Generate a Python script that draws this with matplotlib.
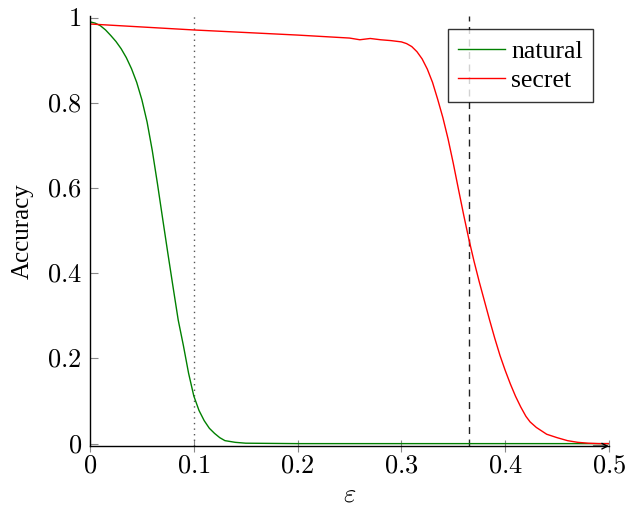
import matplotlib
matplotlib.use("Agg")
import matplotlib.pyplot as plt
from matplotlib.ticker import FuncFormatter

plt.rcParams['font.family'] = 'serif'
plt.rcParams['font.serif'] = ['Liberation Serif', 'Times New Roman', 'DejaVu Serif']
plt.rcParams['mathtext.fontset'] = 'cm'

# natural accuracy vs epsilon
nat_eps = [0, 0.005, 0.01, 0.015, 0.02, 0.025, 0.03, 0.035, 0.04, 0.045, 0.05,
           0.055, 0.06, 0.065, 0.07, 0.075, 0.08, 0.085, 0.09, 0.095, 0.10,
           0.105, 0.11, 0.115, 0.12, 0.125, 0.13, 0.14, 0.15, 0.2, 0.3, 0.4, 0.5]
nat_acc = [0.99, 0.987, 0.981, 0.971, 0.958, 0.944, 0.927, 0.906, 0.88, 0.848, 0.807,
           0.755, 0.688, 0.61, 0.528, 0.447, 0.368, 0.29, 0.23, 0.165, 0.112,
           0.078, 0.054, 0.036, 0.024, 0.014, 0.007, 0.003, 0.001, 0.0, 0.0, 0.0, 0.0]

# secret accuracy vs epsilon
sec_eps = [0, 0.05, 0.1, 0.15, 0.2, 0.25, 0.26, 0.27, 0.28, 0.29, 0.3, 0.305,
           0.31, 0.315, 0.32, 0.325, 0.33, 0.335, 0.34, 0.345, 0.35, 0.355,
           0.36, 0.365, 0.37, 0.375, 0.38, 0.385, 0.39, 0.395, 0.4, 0.405,
           0.41, 0.415, 0.42, 0.424, 0.43, 0.44, 0.45, 0.46, 0.47, 0.48, 0.49, 0.5]
sec_acc = [0.985, 0.978, 0.971, 0.965, 0.959, 0.952, 0.948, 0.951, 0.948, 0.946, 0.943, 0.939,
           0.932, 0.92, 0.903, 0.879, 0.848, 0.808, 0.765, 0.715, 0.658, 0.597,
           0.537, 0.480, 0.428, 0.38, 0.335, 0.29, 0.247, 0.207, 0.172, 0.14,
           0.111, 0.086, 0.064, 0.051, 0.038, 0.022, 0.014, 0.007, 0.003, 0.001, 0.0, 0.0]

x_ticks = [0, 0.1, 0.2, 0.3, 0.4, 0.5]
y_ticks = [0, 0.2, 0.4, 0.6, 0.8, 1]
eps_train = 0.1
eps_half = 0.365

fig = plt.figure(figsize=(6.36, 5.08), dpi=100)
ax = fig.add_axes([0.1415, 0.1217, 0.816, 0.847])

ax.axvline(eps_train, color='#555555', lw=1.0, ls=(0, (1, 3)))
ax.axvline(eps_half, color='#222222', lw=1.0, ls=(0, (5, 4)))
ax.plot(nat_eps, nat_acc, color=(0, 0.5, 0), lw=1.0, label='natural')
ax.plot(sec_eps, sec_acc, color='red', lw=1.0, label='secret')

ax.set_xlim(0, 0.5)
ax.set_ylim(-0.006, 1.004)
ax.spines['top'].set_visible(False)
ax.spines['right'].set_visible(False)
ax.spines['left'].set_linewidth(1.0)
ax.spines['bottom'].set_linewidth(1.0)
ax.annotate('', xy=(1.0, 0), xytext=(0.97, 0), xycoords='axes fraction',
            arrowprops=dict(arrowstyle='->', lw=1.0, color='black', shrinkA=0, shrinkB=0))

fmt = FuncFormatter(lambda v, p: '$%g$' % v)
ax.set_xticks(x_ticks)
ax.set_yticks(y_ticks)
ax.xaxis.set_major_formatter(fmt)
ax.yaxis.set_major_formatter(fmt)
ax.tick_params(axis='x', direction='inout', length=8, width=0.8, color='#888888',
               labelsize=19, pad=3)
ax.tick_params(axis='y', direction='in', length=6, width=0.8, color='#888888',
               labelsize=19, pad=6)

ax.set_xlabel(r'$\varepsilon$', fontsize=19, labelpad=5)
ax.set_ylabel('Accuracy', fontsize=18, labelpad=9)

leg = ax.legend(loc='upper right', bbox_to_anchor=(0.969, 0.969), fontsize=18.5,
                frameon=True, fancybox=False, handlelength=1.8, handletextpad=0.25,
                borderpad=0.4, labelspacing=0.25, borderaxespad=0)
leg.get_frame().set_edgecolor('black')
leg.get_frame().set_linewidth(1.0)

fig.savefig('out.png', dpi=100)
